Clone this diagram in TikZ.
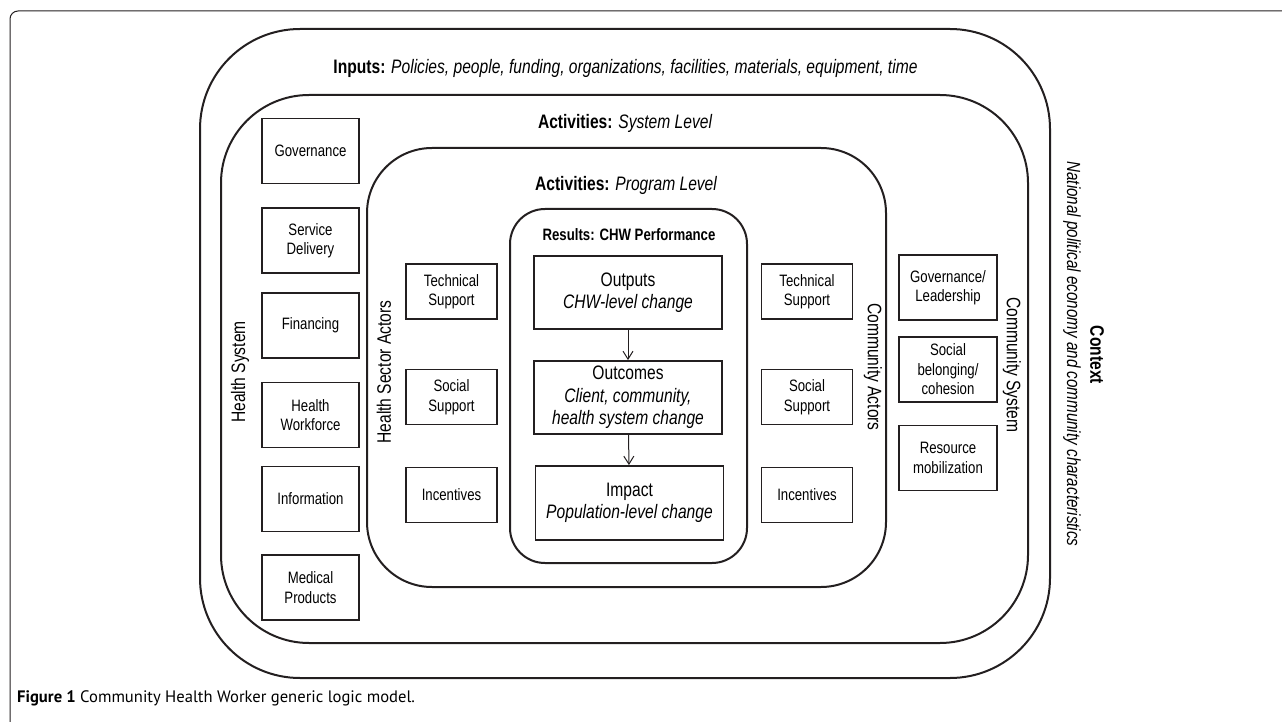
\documentclass[tikz,border=0pt]{standalone}
\usepackage{fontspec}
\setmainfont{Liberation Sans}[FakeStretch=0.8]
\newfontfamily\capfont{PT Sans}
\usetikzlibrary{arrows.meta}
\definecolor{ink}{RGB}{35,31,32}

\begin{document}
\begin{tikzpicture}[x=1pt,y=-1pt,
		ring/.style={draw=ink,line width=2pt,rounded corners=#1,inner sep=0pt},
		block/.style={draw=ink,line width=1.8pt,inner sep=0pt,align=center,
			minimum width=#1,font=\fontsize{16.5}{19.5}\selectfont},
		result/.style={draw=ink,line width=1.8pt,inner sep=0pt,align=center,
			minimum width=188pt,minimum height=73pt,font=\fontsize{19.5}{22.5}\selectfont},
		title/.style={inner sep=0pt,font=\fontsize{19.5}{22}\selectfont},
		flow/.style={draw=ink,line width=1pt,-{Straight Barb[length=8pt,width=10pt]}}]
	\useasboundingbox (0,0) rectangle (1282,722);
	% figure frame
	\draw [ink,line width=1pt,rounded corners=8pt] (10,722) -- (10,11) -- (1282,11);
	% nested levels
	\node [ring=100pt,minimum width=850pt,minimum height=649pt] (context) at (625,353.5) {};
	\node [ring=88pt,minimum width=807pt,minimum height=548pt] (system) at (624.5,369) {};
	\node [ring=65pt,minimum width=519pt,minimum height=439pt] (program) at (626.5,367.5) {};
	\node [ring=35pt,minimum width=237pt,minimum height=354pt] (results) at (628.5,386) {};
	% level titles
	\node [title] (inputs) at (625.5,68) {\textbf{Inputs:} \itshape Policies, people, funding, organizations, facilities, materials, equipment, time};
	\node [title] (syslevel) at (625,123) {\textbf{Activities:} \itshape System Level};
	\node [title] (proglevel) at (626,185) {\textbf{Activities:} \itshape Program Level};
	\node [inner sep=0pt,font=\fontsize{16.5}{19}\selectfont\bfseries] (restitle) at (629,235) {Results: CHW Performance};
	\node [title,rotate=90] (hslabel) at (240,372) {Health System};
	\node [title,rotate=90] (hsactors) at (384,372) {Health Sector Actors};
	\node [title,rotate=-90] (comactors) at (873,367) {Community Actors};
	\node [title,rotate=-90] (comsystem) at (1012,365) {Community System};
	\node [title,rotate=-90,font=\fontsize{19.5}{22}\selectfont\bfseries] (context title) at (1097,355) {Context};
	\node [title,rotate=-90,font=\fontsize{19}{22}\selectfont\itshape] (context text) at (1072,354) {National political economy and community characteristics};
	% health system building blocks
	\foreach \name/\y/\txt in {gov/151/Governance,serv/240.5/Service\\Delivery,fin/325.5/Financing,
			work/415/Health\\Workforce,info/499/Information,med/587.5/Medical\\Products}
		\node [block=97pt,minimum height=65pt] (\name) at (310.5,\y) {\txt};
	% actor support boxes
	\foreach \side/\x in {hs/451.5,ca/807}
		\foreach \name/\y/\txt in {tech/291.5/Technical\\Support,soc/397/Social\\Support,inc/495/Incentives}
			\node [block=91pt,minimum height=55pt] (\side\name) at (\x,\y) {\txt};
	% community system boxes
	\node [block=98pt,minimum height=65pt] (lead) at (948,287.5) {Governance/\\Leadership};
	\node [block=98pt,minimum height=65pt] (cohesion) at (948,369.5) {Social\\belonging/\\cohesion};
	\node [block=98pt,minimum height=65pt] (resource) at (948,458) {Resource\\mobilization};
	% results chain
	\node [result] (outputs) at (628,292.5) {Outputs\\\itshape CHW-level change};
	\node [result] (outcomes) at (628,397.5) {Outcomes\\\itshape Client, community,\\\itshape health system change};
	\node [result,minimum height=74pt] (impact) at (629.5,503) {Impact\\\itshape Population-level change};
	\draw [flow] (outputs) -- (outcomes);
	\draw [flow] (outcomes) -- (impact);
	% caption
	\node [anchor=west,inner sep=0pt,font=\capfont\fontsize{16.6}{19}\selectfont] (caption) at (17,698)
		{\textbf{Figure 1} Community Health Worker generic logic model.};
\end{tikzpicture}
\end{document}
